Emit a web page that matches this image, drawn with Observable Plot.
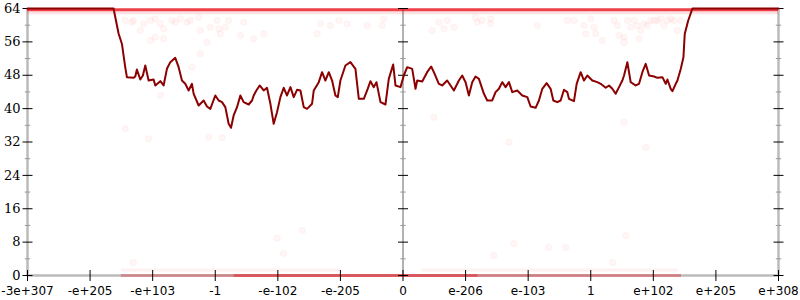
<!DOCTYPE html>
<html>
<head>
<meta charset="utf-8">
<script src="https://cdn.jsdelivr.net/npm/d3@7"></script>
<script src="https://cdn.jsdelivr.net/npm/@observablehq/plot@0.6"></script>
<style>
  html, body { margin: 0; padding: 0; background: #fff; }
</style>
</head>
<body>
<div id="chart"></div>
<script>
// ---- data ----
const xTicks = [-6, -5, -4, -3, -2, -1, 0, 1, 2, 3, 4, 5, 6];
const xTickLabels = ["-3e+307", "-e+205", "-e+103", "-1", "-e-102", "-e-205", "0",
                     "e-206", "e-103", "1", "e+102", "e+205", "e+308"];
const yTicks = [0, 8, 16, 24, 32, 40, 48, 56, 64];
const yMinorTicks = [4, 12, 20, 28, 36, 44, 52, 60];
const axisPositions = [-6, 0, 6];

const lineX = [-6, -4.625, -4.545, -4.491, -4.438, -4.411, -4.305, -4.278, -4.252, -4.198, -4.156, -4.118,
  -4.065, -3.985, -3.958, -3.878, -3.825, -3.772, -3.718, -3.639, -3.585, -3.532, -3.479, -3.425,
  -3.372, -3.345, -3.265, -3.185, -3.132, -3.079, -2.999, -2.945, -2.892, -2.839, -2.786, -2.748,
  -2.706, -2.652, -2.599, -2.546, -2.466, -2.412, -2.386, -2.343, -2.290, -2.226, -2.173, -2.119,
  -2.066, -2.013, -1.959, -1.906, -1.853, -1.799, -1.746, -1.693, -1.639, -1.586, -1.533, -1.453,
  -1.426, -1.346, -1.293, -1.240, -1.186, -1.133, -1.080, -1.042, -1.000, -0.920, -0.840, -0.760,
  -0.706, -0.626, -0.573, -0.520, -0.467, -0.424, -0.360, -0.280, -0.227, -0.157, -0.120, -0.040,
  0.013, 0.067, 0.147, 0.200, 0.227, 0.307, 0.386, 0.450, 0.493, 0.573, 0.626, 0.706, 0.760, 0.813,
  0.893, 0.946, 1.000, 1.053, 1.106, 1.159, 1.213, 1.293, 1.346, 1.426, 1.479, 1.533, 1.586, 1.639,
  1.693, 1.746, 1.826, 1.906, 1.986, 2.039, 2.119, 2.172, 2.226, 2.295, 2.359, 2.402, 2.466, 2.519,
  2.572, 2.626, 2.652, 2.732, 2.775, 2.839, 2.892, 2.945, 3.025, 3.105, 3.159, 3.239, 3.292, 3.345,
  3.398, 3.452, 3.505, 3.532, 3.585, 3.638, 3.718, 3.772, 3.825, 3.878, 3.932, 4.012, 4.065, 4.145,
  4.198, 4.225, 4.278, 4.305, 4.358, 4.385, 4.438, 4.481, 4.502, 4.555, 4.625, 6];
const lineY = [64, 64, 58.0, 55.5, 49.9, 47.5, 47.38, 47.70, 49.38, 46.98, 47.94, 50.34,
  46.74, 46.98, 45.55, 46.58, 45.55, 49.54, 51.14, 52.18, 49.94, 46.74, 45.95, 44.35,
  45.95, 43.55, 40.75, 41.95, 40.51, 39.95, 43.15, 41.95, 41.55, 40.35, 36.36, 35.40,
  38.36, 40.35, 43.15, 41.55, 40.99, 41.95, 43.15, 44.35, 45.55, 44.35, 44.99, 41.15,
  36.36, 39.15, 42.75, 44.99, 43.15, 45.15, 42.75, 44.51, 44.35, 40.35, 39.95, 41.15,
  44.35, 46.34, 48.74, 46.74, 48.74, 46.74, 43.15, 42.75, 46.74, 50.34, 51.14, 49.54,
  42.35, 42.35, 44.35, 46.58, 45.15, 46.34, 41.55, 40.99, 47.14, 50.58, 45.55, 45.15,
  47.94, 49.94, 49.54, 44.75, 46.74, 46.50, 48.74, 50.10, 48.74, 45.95, 45.55, 46.74, 45.55, 44.35,
  46.74, 47.94, 46.34, 43.15, 46.34, 47.70, 47.14, 43.55, 41.95, 41.95, 43.95, 44.75, 46.34, 45.15,
  46.34, 43.95, 44.35, 43.15, 42.75, 40.51, 40.19, 41.95, 44.75, 46.10, 44.75, 41.95, 41.55, 41.95,
  44.51, 43.95, 42.35, 41.79, 45.95, 48.74, 46.74, 47.94, 46.74, 46.34, 45.95, 44.99, 45.55, 44.75,
  43.55, 45.15, 46.74, 47.94, 51.14, 46.34, 45.55, 45.95, 48.74, 50.74, 47.94, 47.70, 47.38, 47.54,
  45.95, 46.98, 44.75, 44.19, 45.95, 46.74, 49.5, 52.3, 57.9, 61.0, 64, 64];

// scattered faint samples
const sampleX = [-4.438, -4.332, -4.305, -4.145, -4.038, -3.958, -3.878, -3.825, -3.692, -3.639, -3.559,
  -3.452, -3.399, -3.265, -3.239, -3.132, -3.079, -2.972, -2.945, -2.919, -2.839, -2.786, -2.599,
  -2.546, -2.386, -2.226, -1.373, -1.320, -1.160, -1.026, -0.893, -0.573, -0.333, -0.307,
  -4.438, -4.065, -3.105, -2.892, -3.239, -3.372, -3.878, -4.038, -3.958, -3.825, -4.198,
  0.466, 0.573, 0.653, 0.706, 0.813, 1.159, 1.186, 1.266, 1.399, 1.399, 2.146, 2.626, 2.732,
  2.892, 2.919, 2.999, 3.052, 3.079, 3.185, 3.372, 3.425, 3.452, 3.532, 3.532, 3.585, 3.638,
  3.692, 3.745, 3.798, 3.772, 3.852, 3.905, 3.958, 4.012, 4.065, 4.118, 4.172, 4.225, 4.278,
  4.332, 4.385, 4.438, 0.493, 3.532, 1.693, 3.878,
  -4.31, -2.01, -1.91, -1.61, 1.77, 2.33, 2.60, 1.45, 3.35, 3.56];
const sampleY = [61.13, 60.73, 61.13, 60.33, 61.13, 61.53, 60.33, 59.13, 61.13, 60.73, 61.53,
  60.73, 61.13, 61.93, 58.73, 55.93, 59.53, 61.13, 59.13, 57.93, 59.53, 61.13, 57.53,
  60.73, 56.73, 57.93, 57.93, 60.33, 59.93, 61.13, 60.33, 59.93, 59.93, 61.53,
  35.16, 32.76, 33.16, 33.0, 53.14, 49.94, 43.15, 56.33, 57.13, 56.73, 58.73,
  58.73, 60.73, 59.13, 61.13, 59.53, 61.93, 60.73, 61.13, 61.53, 60.33, 59.93, 61.13, 61.13,
  59.93, 57.93, 61.53, 59.53, 57.93, 56.33, 61.13, 59.93, 57.53, 57.13, 55.93, 61.13, 59.53,
  61.13, 59.93, 58.73, 56.73, 60.33, 59.93, 61.13, 61.13, 61.13, 61.53, 59.93, 61.13, 61.53,
  61.13, 58.73, 61.13, 37.96, 36.76, 31.96, 30.77,
  3.1, 8.9, 5.3, 10.8, 7.7, 6.7, 6.7, 4.8, 3.1, 9.6];

// dense bands of samples (start, end, value, relative density)
const bandX1 = [-6, -6, -4.5, -2.7, 1.2, -4.5, 0.3];
const bandX2 = [6, 6, -2.7, 1.2, 4.45, -1.0, 4.4];
const bandY = [63.7, 63.0, 0, 0, 0, 1.3, 1.3];
const bandDensity = [0.8, 0.12, 0.3, 0.6, 0.35, 0.06, 0.06];

// ---- derived tables ----
const line = lineX.map((x, i) => ({x, y: lineY[i]}));
const samples = sampleX.map((x, i) => ({x, y: sampleY[i]}));
const bands = bandX1.map((x1, i) => ({x1, x2: bandX2[i], y: bandY[i], d: bandDensity[i]}));
const majorRows = axisPositions.flatMap(ax => yTicks.map(y => ({ax, y})));
const minorRows = axisPositions.flatMap(ax => yMinorTicks.map(y => ({ax, y})));
const xTickRows = xTicks.map((x, i) => ({x, label: xTickLabels[i]}));

const hline = {draw(ctx, size) { const r = Math.sqrt(size / Math.PI); ctx.moveTo(-r, 0); ctx.lineTo(r, 0); }};
const vline = {draw(ctx, size) { const r = Math.sqrt(size / Math.PI); ctx.moveTo(0, -r); ctx.lineTo(0, r); }};

const chart = Plot.plot({
  width: 800,
  height: 300,
  marginLeft: 27,
  marginRight: 22,
  marginTop: 8,
  marginBottom: 25,
  x: {domain: [-6, 6], axis: null},
  y: {domain: [0, 64], axis: null},
  opacity: {type: "identity"},
  style: {background: "#fff", overflow: "visible"},
  marks: [
    // axis lines
    Plot.ruleY([0], {stroke: "#bbb", strokeWidth: 2.5}),
    Plot.ruleX([-6, 6], {stroke: "#bbb", strokeWidth: 2.5}),
    Plot.ruleX([0], {stroke: "#666", strokeWidth: 1}),
    // sample bands and scattered samples
    Plot.ruleY(bands, {y: "y", x1: "x1", x2: "x2", stroke: "#e8101a", strokeOpacity: "d", strokeWidth: 3}),
    Plot.dot(samples, {x: "x", y: "y", r: 3, fill: "#ff0000", fillOpacity: 0.035, stroke: "#ff0000", strokeOpacity: 0.03}),
    // ticks
    Plot.dot(minorRows, {x: "ax", y: "y", r: 2.7, symbol: hline, stroke: "#999", strokeWidth: 1}),
    Plot.dot(majorRows, {x: "ax", y: "y", r: 5, symbol: hline, stroke: "#000", strokeWidth: 1}),
    Plot.dot(xTickRows, {x: "x", y: 0, r: 5.5, symbol: vline, stroke: "#000", strokeWidth: 1}),
    // main line
    Plot.line(line, {x: "x", y: "y", stroke: "#8b0000", strokeWidth: 2, strokeLinejoin: "round"}),
    // labels
    Plot.text(yTicks, {x: -6, y: d => d, text: d => String(d), textAnchor: "end", dx: -7,
      fontFamily: "DejaVu Serif", fontSize: 13, fill: "#000"}),
    Plot.text(xTickRows, {x: "x", y: 0, text: "label", dy: 16, lineAnchor: "middle",
      fontFamily: "DejaVu Sans", fontSize: 12, fill: "#000"})
  ]
});
document.getElementById("chart").appendChild(chart);
</script>
</body>
</html>
